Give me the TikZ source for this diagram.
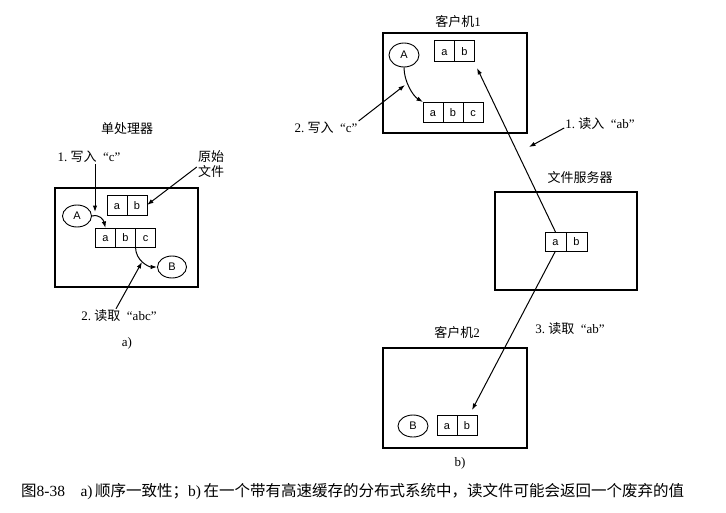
\documentclass[tikz,border=0pt]{standalone}
\usepackage{fontspec}
\setmainfont{Liberation Serif}
\setsansfont{Liberation Sans}
\newfontfamily\cjk{Noto Sans CJK SC}
\usetikzlibrary{arrows.meta,positioning,shapes.geometric}
\newcommand{\zh}[1]{{\cjk #1}}

\begin{document}
\begin{tikzpicture}[x=1pt, y=-1pt, >={Latex[length=6.5pt,width=4.5pt]},
  frame/.style={draw, line width=1.3pt, minimum width=143pt, minimum height=99pt, inner sep=0pt},
  cell/.style={draw, line width=0.9pt, font=\sffamily\fontsize{11}{13}\selectfont,
               text height=8pt, text depth=0pt,
               minimum width=20pt, minimum height=20pt, inner sep=0pt, outer sep=0pt},
  proc/.style={draw, ellipse, line width=0.9pt, minimum width=29pt, minimum height=22pt,
               inner sep=0pt, font=\sffamily\fontsize{11}{13}\selectfont},
  lbl/.style={font=\fontsize{13}{15}\selectfont, inner sep=1pt, align=center},
  link/.style={->, line width=1pt}]
\useasboundingbox (0,0) rectangle (726,512);
% a) single processor
\node[lbl] (uni) at (127,129) {\zh{单处理器}};
\node[frame] (ubox) at (126.5,237.5) {};
\node[cell] (ua) at (117,205) {a};
\node[cell, right=0pt of ua] (ub) {b};
\node[cell, minimum height=19pt] (va) at (105.5,237.5) {a};
\node[cell, minimum height=19pt, right=0pt of va] (vb) {b};
\node[cell, minimum height=19pt, right=0pt of vb] (vc) {c};
\node[proc] (pa) at (77,216) {A};
\node[proc] (pb) at (172,267) {B};
\node[lbl] (wr1) at (89,157) {1.\ \zh{写入}\enspace“c”};
\node[lbl] (orig) at (211,164) {\zh{原始}\\\zh{文件}};
\node[lbl] (rd2) at (119,316) {2.\ \zh{读取}\enspace“abc”};
\node[lbl] (capa) at (127,343) {a)};
\coordinate (tw1) at (95,212);
\coordinate (tr2) at (142,262);
\draw[link] (wr1.south -| tw1) -- (tw1);
\draw[link] ([yshift=-3pt]orig.west) -- (ub.east);
\draw[link] (pa.east) .. controls +(8,-2) and +(-2,-8) .. (va.north);
\draw[link] (vc.south west) .. controls +(0,14) and +(-8,0) .. (pb.west);
\draw[link] ([xshift=-3pt]rd2.north) -- (tr2);
% b) client 1
\node[lbl] (cl1) at (458,22) {\zh{客户机}1};
\node[frame, minimum width=144pt, minimum height=100pt] (c1box) at (455,83) {};
\node[proc, minimum width=30pt, minimum height=24pt] (qa) at (404,55) {A};
\node[cell, minimum height=21pt] (ka) at (444.5,51) {a};
\node[cell, minimum height=21pt, right=0pt of ka] (kb) {b};
\node[cell] (ma) at (433,112) {a};
\node[cell, right=0pt of ma] (mb) {b};
\node[cell, right=0pt of mb] (mc) {c};
\node[lbl] (wr2) at (326,128) {2.\ \zh{写入}\enspace“c”};
\coordinate (tw2) at (405,85);
\draw[link] (wr2.north east) -- (tw2);
\draw[link] (qa.south) .. controls +(0,14) and +(-10,-6) .. (ma.north west);
% file server
\node[lbl] (srv) at (580,178) {\zh{文件服务器}};
\node[frame, minimum width=142pt, minimum height=98pt] (sbox) at (566,241) {};
\node[cell, minimum height=19pt, minimum width=21pt] (sa) at (555.5,241.5) {a};
\node[cell, minimum height=19pt, minimum width=21pt, right=0pt of sa] (sb) {b};
\node[lbl] (rd1) at (600,124) {1.\ \zh{读入}\enspace“ab”};
\coordinate (tr1) at (477,68);
\coordinate (tr1b) at (529,147);
\draw[link] (sa.north) -- (tr1);
\draw[link] ([yshift=-4pt]rd1.west) -- (tr1b);
% client 2
\node[lbl] (cl2) at (457,333) {\zh{客户机}2};
\node[frame, minimum width=144pt, minimum height=100pt] (c2box) at (455,398) {};
\node[proc, minimum width=30pt, minimum height=22pt] (qb) at (413,426) {B};
\node[cell] (na) at (447,425) {a};
\node[cell, right=0pt of na] (nb) {b};
\node[lbl] (rd3) at (570,329) {3.\ \zh{读取}\enspace“ab”};
\coordinate (tr3) at (472,410);
\draw[link] (sa.south) -- (tr3);
\node[lbl] (capb) at (460,463) {b)};
% caption
\node[lbl, anchor=west, font=\fontsize{15.5}{17}\selectfont] (cap) at (20,492) {\zh{图}8-38\quad a)\,\zh{顺序一致性；}b)\,\zh{在一个带有高速缓存的分布式系统中，读文件可能会返回一个废弃的值}};
\end{tikzpicture}
\end{document}
